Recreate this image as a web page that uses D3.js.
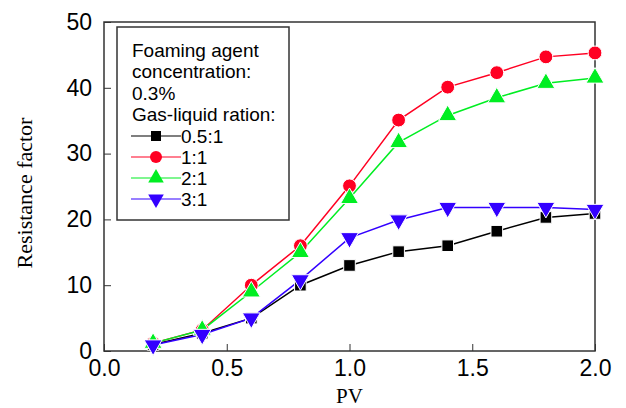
<!DOCTYPE html>
<html>
<head>
<meta charset="utf-8">
<script src="https://cdn.jsdelivr.net/npm/d3@7"></script>
<style>
  body { margin: 0; background: #fff; }
</style>
</head>
<body>
<div id="chart"></div>
<script>
const pv = [0.2, 0.4, 0.6, 0.8, 1.0, 1.2, 1.4, 1.6, 1.8, 2.0];
const ratio05 = [1.0, 2.7, 5.0, 10.0, 13.0, 15.1, 16.0, 18.2, 20.3, 20.9];
const ratio1 = [1.2, 3.2, 10.0, 16.0, 25.1, 35.1, 40.1, 42.3, 44.7, 45.3];
const ratio2 = [1.2, 3.2, 9.0, 15.0, 23.2, 31.7, 35.8, 38.5, 40.7, 41.5];
const ratio3 = [0.9, 2.5, 5.0, 10.8, 17.2, 19.9, 21.8, 21.8, 21.8, 21.5];
const xTicks = [0.0, 0.5, 1.0, 1.5, 2.0];
const yTicks = [0, 10, 20, 30, 40, 50];
const legendTitle = ["Foaming agent", "concentration:", "0.3%", "Gas-liquid ration:"];

const series = [
    { name: "0.5:1", values: ratio05, color: "#000000", symbol: d3.symbolSquare, size: 135, rot: 0 },
    { name: "1:1", values: ratio1, color: "#ff0022", symbol: d3.symbolCircle, size: 150, rot: 0 },
    { name: "2:1", values: ratio2, color: "#00ee22", symbol: d3.symbolTriangle, size: 140, rot: 0 },
    { name: "3:1", values: ratio3, color: "#3300ff", symbol: d3.symbolTriangle, size: 140, rot: 180 }
];

const width = 626;
const height = 408;
const marginLeft = 104;
const marginRight = 31;
const marginTop = 22;
const marginBottom = 57;

const x = d3.scaleLinear([0, 2], [marginLeft, width - marginRight]);
const y = d3.scaleLinear([0, 50], [height - marginBottom, marginTop]);

const svg = d3.select("#chart").append("svg")
    .attr("width", width)
    .attr("height", height)
    .attr("viewBox", [0, 0, width, height]);

// axes, ticks point inward
svg.append("g")
    .attr("transform", `translate(0,${height - marginBottom})`)
    .call(d3.axisBottom(x).tickValues(xTicks).tickFormat(d3.format(".1f")).tickSizeInner(-7).tickSizeOuter(0).tickPadding(9))
    .call(g => g.select(".domain").remove())
    .call(g => g.selectAll("line").attr("stroke", "#333"))
    .call(g => g.selectAll("text").attr("font-family", "Liberation Sans, Arial, sans-serif").attr("font-size", 23).attr("fill", "#000"));

svg.append("g")
    .attr("transform", `translate(${marginLeft},0)`)
    .call(d3.axisLeft(y).tickValues(yTicks).tickSizeInner(-7).tickSizeOuter(0).tickPadding(12))
    .call(g => g.select(".domain").remove())
    .call(g => g.selectAll("line").attr("stroke", "#333"))
    .call(g => g.selectAll("text").attr("font-family", "Liberation Sans, Arial, sans-serif").attr("font-size", 23).attr("fill", "#000"));

svg.append("rect")
    .attr("x", marginLeft)
    .attr("y", marginTop)
    .attr("width", width - marginLeft - marginRight)
    .attr("height", height - marginTop - marginBottom)
    .attr("fill", "none")
    .attr("stroke", "#333")
    .attr("stroke-width", 1.5);

// axis titles
svg.append("text")
    .attr("x", x(1))
    .attr("y", 403)
    .attr("text-anchor", "middle")
    .attr("font-family", "Liberation Serif, Times New Roman, serif")
    .attr("font-size", 21)
    .text("PV");

svg.append("text")
    .attr("transform", "translate(32,193) rotate(-90)")
    .attr("text-anchor", "middle")
    .attr("font-family", "Liberation Serif, Times New Roman, serif")
    .attr("font-size", 22)
    .text("Resistance factor");

const line = d3.line()
    .x((d, i) => x(pv[i]))
    .y(d => y(d));

const plot = svg.append("g");

for (const s of series) {
    plot.append("path")
        .attr("fill", "none")
        .attr("stroke", s.color)
        .attr("stroke-width", 1.5)
        .attr("d", line(s.values));
}

for (const s of series) {
    const sym = d3.symbol(s.symbol, s.size);
    plot.selectAll(null)
        .data(s.values)
        .join("path")
        .attr("d", sym)
        .attr("transform", (d, i) => `translate(${x(pv[i])},${y(d)}) rotate(${s.rot})`)
        .attr("fill", s.color)
        .attr("stroke", "#fff")
        .attr("stroke-width", 1);
}

// legend
const legend = svg.append("g");
legend.append("rect")
    .attr("x", 117)
    .attr("y", 27)
    .attr("width", 172)
    .attr("height", 193)
    .attr("fill", "#fff")
    .attr("stroke", "#333")
    .attr("stroke-width", 1.5);

legend.selectAll(null)
    .data(legendTitle)
    .join("text")
    .attr("x", 132)
    .attr("y", (d, i) => 57 + i * 21.3)
    .attr("font-family", "Liberation Sans, Arial, sans-serif")
    .attr("font-size", 19)
    .text(d => d);

series.forEach((s, i) => {
    const cy = 136 + i * 21;
    legend.append("line")
        .attr("x1", 131).attr("x2", 181)
        .attr("y1", cy).attr("y2", cy)
        .attr("stroke", s.color)
        .attr("stroke-width", 1.2);
    legend.append("path")
        .attr("d", d3.symbol(s.symbol, s.size * 0.75))
        .attr("transform", `translate(156,${cy}) rotate(${s.rot})`)
        .attr("fill", s.color);
    legend.append("text")
        .attr("x", 181)
        .attr("y", cy + 7)
        .attr("font-family", "Liberation Sans, Arial, sans-serif")
        .attr("font-size", 19)
        .text(s.name);
});
</script>
</body>
</html>
